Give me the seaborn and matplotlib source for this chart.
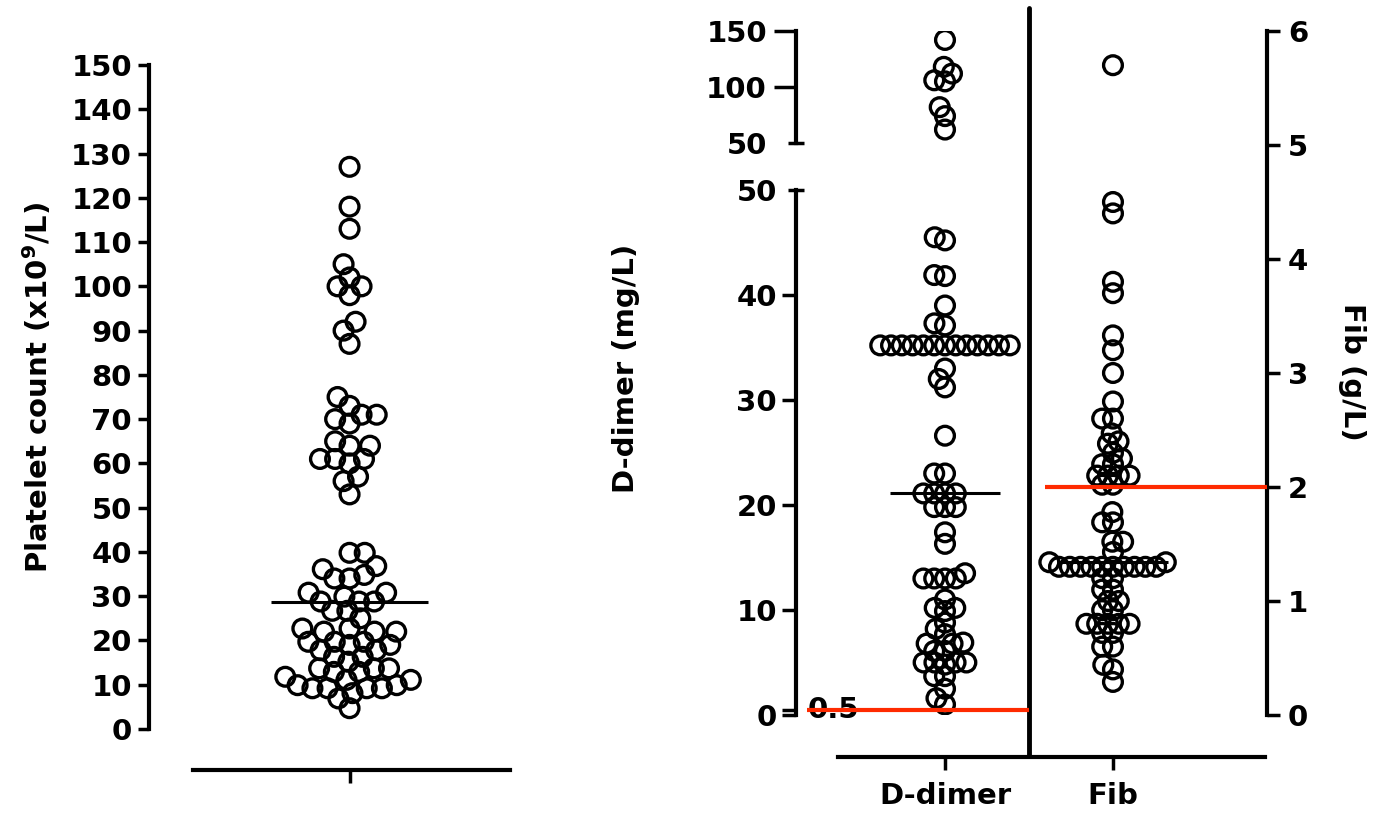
import numpy as np
import pandas as pd
import seaborn as sns
import matplotlib.pyplot as plt
from matplotlib import ticker
from matplotlib.collections import PathCollection
from matplotlib.transforms import blended_transform_factory

# values
platelet = [127, 118, 113, 105, 102, 100, 100, 98, 92, 90, 87,
            75, 73, 71, 71, 70, 69, 65, 64, 64, 61, 61, 61, 60, 57, 56, 53,
            39.8, 39.8, 36.8, 36.1, 34.8, 34.0, 34.0, 30.8, 30.8, 29.9,
            28.8, 28.8, 28.8, 26.7, 26.7, 25.0, 22.7, 22.7, 22.0, 22.0, 22.0,
            19.7, 19.7, 19.7, 19.0, 19.0, 17.8, 17.8, 16.3, 16.3, 15.2,
            13.7, 13.7, 13.7, 12.9, 12.9, 11.8, 11.1, 11.1, 9.9, 9.9,
            9.2, 9.2, 9.2, 9.2, 8.1, 6.9, 4.7]

ddimer = [142, 118, 112, 106, 105, 82, 74, 62,
          45.5, 45.2, 41.9, 41.8, 39.0, 37.3, 37.1] + [35.2] * 13 + \
         [33.0, 32.0, 31.2, 26.6, 23.0, 23.0, 21.1, 21.1, 21.1, 21.1,
          19.8, 19.8, 19.8, 17.4, 16.3, 13.5, 13.0, 13.0, 13.0, 13.0,
          11.0, 10.2, 10.2, 9.9, 8.8, 8.2, 7.7, 6.9, 6.8, 6.8, 6.1, 6.1,
          5.0, 5.0, 5.0, 5.0, 4.8, 3.7, 3.7, 2.5, 1.6, 1.0]

fib = [5.7, 4.5, 4.4, 3.8, 3.7, 3.33, 3.2, 3.0, 2.75, 2.6, 2.6, 2.47,
       2.4, 2.38, 2.3, 2.25, 2.2, 2.2, 2.1, 2.1, 2.1, 2.1, 2.02, 2.02,
       1.78, 1.69, 1.69, 1.52, 1.52, 1.43, 1.34, 1.34] + [1.3] * 10 + \
      [1.2, 1.2, 1.1, 1.1, 1.0, 1.0, 0.92, 0.92, 0.8, 0.8, 0.8, 0.8, 0.8,
       0.72, 0.72, 0.6, 0.6, 0.44, 0.4, 0.29]

cats = ["D-dimer", "Fib"]
ddimer_cutoff = 0.5
fib_cutoff = 2.0
axis_break = 50

RED = "#FF2A00"
FS = 21

sns.set_theme(style="ticks")
plt.rcParams["font.family"] = ["DejaVu Sans"]
plt.rcParams["font.weight"] = "bold"
plt.rcParams["axes.labelweight"] = "bold"
plt.rcParams["text.color"] = "black"
plt.rcParams["axes.labelcolor"] = "black"
plt.rcParams["xtick.color"] = "black"
plt.rcParams["ytick.color"] = "black"
plt.rcParams["mathtext.fontset"] = "custom"
plt.rcParams["mathtext.rm"] = "DejaVu Sans:bold"
plt.rcParams["mathtext.bf"] = "DejaVu Sans:bold"

W, H = 1373, 819
fig = plt.figure(figsize=(W / 100, H / 100), dpi=100)


def box(left, top, right, bottom):
    return [left / W, 1 - bottom / H, (right - left) / W, (bottom - top) / H]


axL = fig.add_axes(box(149, 65, 510, 729))
axF = fig.add_axes(box(796, 31, 1267, 715))
axD = fig.add_axes(box(796, 190, 1267, 715))
axU = fig.add_axes(box(796, 31, 1267, 143))
for ax in (axL, axF, axD, axU):
    ax.patch.set_visible(False)

kw = dict(facecolor="none", edgecolor="black", linewidth=2.4, zorder=3)

# ---- left panel: platelets
sns.swarmplot(y=platelet, ax=axL, size=8, **kw)
axL.hlines(np.median(platelet), -0.39, 0.39, color="black", lw=2.2, zorder=4)
axL.set_xlim(-1, 0.8)
axL.set_ylim(0, 150)
sns.despine(ax=axL)
axL.spines["left"].set_bounds(0, 150)
axL.spines["bottom"].set_position(("outward", 29.5))
axL.spines["bottom"].set_bounds(-0.78, 0.8)
for s in ("left", "bottom"):
    axL.spines[s].set_linewidth(3)
    axL.spines[s].set_color("black")
axL.set_yticks(range(0, 151, 10))
axL.set_xticks([0])
axL.set_xticklabels([""])
axL.tick_params(axis="y", length=8, width=2.5, pad=4.2, labelsize=FS)
axL.tick_params(axis="x", length=9.5, width=2.5)
axL.set_ylabel("Platelet count (x10$^{\\mathbf{9}}$/L)", fontsize=FS)
axL.yaxis.set_label_coords(-0.263, 0.514)

# ---- right panel: D-dimer (broken axis) and Fib
dd = np.array(ddimer)
low = dd[dd <= axis_break]
high = dd[dd > axis_break]
sns.swarmplot(x=["D-dimer"] * len(low), y=low, order=cats, ax=axD, size=5, **kw)
sns.swarmplot(x=["D-dimer"] * len(high), y=high, order=cats, ax=axU, size=5, **kw)
sns.swarmplot(x=["Fib"] * len(fib), y=fib, order=cats, ax=axF, size=5, **kw)

axD.hlines(np.median(dd), -0.33, 0.33, color="black", lw=2.2, zorder=4)
axF.hlines(np.median(fib), 0.67, 1.33, color="black", lw=2.2, zorder=4)

xl = (-0.887, 1.917)
for ax in (axD, axU, axF):
    ax.set_xlim(xl)
axD.set_ylim(0, axis_break)
axU.set_ylim(axis_break, 150)
axF.set_ylim(0, 6)

# cut-off lines
axD.hlines(ddimer_cutoff, -0.82, 0.5, color=RED, lw=3, zorder=5, clip_on=False)
axF.hlines(fib_cutoff, 0.595, xl[1], color=RED, lw=3, zorder=5, clip_on=False)
axD.text(0.025, ddimer_cutoff, "0.5", fontsize=FS, ha="left", va="center",
         transform=blended_transform_factory(axD.transAxes, axD.transData), zorder=2)

# separator between the two columns
axF.axvline(0.5, ymin=-0.058, ymax=1.034, color="black", lw=3.5, clip_on=False, zorder=2)

for ax in (axD, axU):
    for s in ("top", "right", "bottom"):
        ax.spines[s].set_visible(False)
    ax.spines["left"].set_linewidth(3)
    ax.spines["left"].set_color("black")
    ax.tick_params(axis="x", bottom=False, labelbottom=False)
    ax.set_xlabel("")

axD.spines["left"].set_bounds(0, axis_break)
axD.set_yticks([0, 0.5, 10, 20, 30, 40])
axD.set_yticklabels(["0", "", "10", "20", "30", "40"])
axD.yaxis.set_minor_locator(ticker.FixedLocator([axis_break]))
axD.yaxis.set_minor_formatter(ticker.FixedFormatter(["50"]))
axD.tick_params(axis="y", which="major", length=10, width=2.5, pad=3.7, labelsize=FS)
axD.tick_params(axis="y", which="minor", direction="inout", length=11, width=2.5,
                pad=8.2, labelsize=FS)
axD.set_ylabel("D-dimer (mg/L)", fontsize=FS)
axD.yaxis.set_label_coords(-0.331, 0.661)

axU.spines["left"].set_bounds(axis_break, 150)
axU.set_yticks([100, 150])
axU.yaxis.set_minor_locator(ticker.FixedLocator([axis_break]))
axU.yaxis.set_minor_formatter(ticker.FixedFormatter(["50"]))
axU.tick_params(axis="y", which="major", length=16, width=2.5, pad=4.9, labelsize=FS)
axU.tick_params(axis="y", which="minor", direction="inout", length=11, width=2.5,
                pad=15.4, labelsize=FS)
axU.set_ylabel("")

for s in ("top", "left"):
    axF.spines[s].set_visible(False)
for s in ("right", "bottom"):
    axF.spines[s].set_linewidth(3)
    axF.spines[s].set_color("black")
axF.spines["right"].set_bounds(0, 6)
axF.spines["bottom"].set_position(("outward", 30))
axF.spines["bottom"].set_bounds(-0.637, 1.905)
axF.yaxis.tick_right()
axF.set_yticks(range(0, 7))
axF.set_xticks([0, 1])
axF.set_xticklabels(cats)
axF.tick_params(axis="y", length=9.4, width=2.5, pad=5.6, labelsize=FS)
axF.tick_params(axis="x", length=9, width=2.5, pad=9, labelsize=FS)
axF.set_xlabel("")
axF.yaxis.set_label_position("right")
axF.set_ylabel("Fib (g/L)", fontsize=FS, rotation=270, va="bottom")
axF.yaxis.set_label_coords(1.151, 0.501)

# lay the swarms out with small markers, then freeze them and draw big open circles
fig.canvas.draw()
for ax in (axL, axD, axU, axF):
    for coll in ax.collections:
        if isinstance(coll, PathCollection):
            if "draw" in vars(coll):
                del coll.draw
            coll.set_sizes([13.5 ** 2])
            coll.set_facecolor("none")
            coll.set_edgecolor("black")

fig.savefig("out.png", dpi=100)
